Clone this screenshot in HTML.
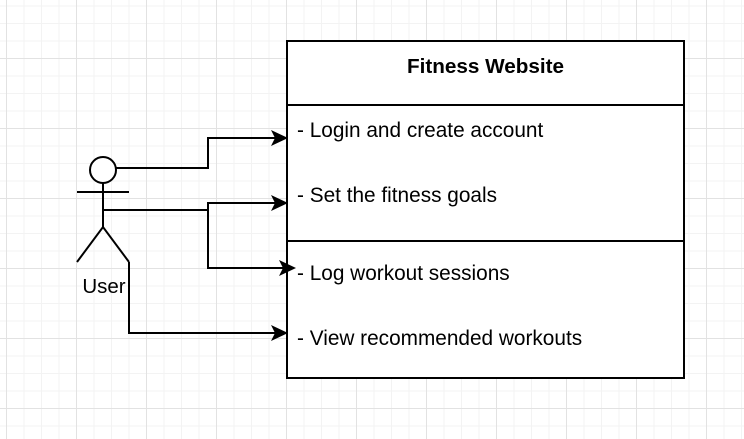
<!DOCTYPE html>
<html><head><style>
html,body{margin:0;padding:0;}
body{width:744px;height:439px;overflow:hidden;background-color:#fff;
background-image:
linear-gradient(to right,#e2e2e2 1px,transparent 1px),
linear-gradient(to bottom,#e2e2e2 1px,transparent 1px),
linear-gradient(to right,#f3f3f3 1px,transparent 1px),
linear-gradient(to bottom,#f3f3f3 1px,transparent 1px);
background-size:70px 70px,70px 70px,17.5px 17.5px,17.5px 17.5px;
background-position:6px 0,0 58px,6px 0,0 5.5px;}
svg{position:absolute;left:0;top:0;}
</style></head><body>
<svg width="744" height="439" xmlns="http://www.w3.org/2000/svg" font-family="Liberation Sans, sans-serif">
<rect x="287" y="41" width="397" height="337" fill="#fff" stroke="#000" stroke-width="2"/>
<line x1="287" y1="105" x2="684" y2="105" stroke="#000" stroke-width="2"/>
<line x1="287" y1="241" x2="684" y2="241" stroke="#000" stroke-width="2"/>
<text x="485.5" y="73" text-anchor="middle" font-weight="bold" font-size="20.7">Fitness Website</text>
<g font-size="20.8" fill="#000">
<text x="297" y="137">- Login and create account</text>
<text x="297" y="202">- Set the fitness goals</text>
<text x="297" y="280">- Log workout sessions</text>
<text x="297" y="345">- View recommended workouts</text>
</g>
<g stroke="#000" stroke-width="2" fill="none">
<circle cx="103" cy="170" r="13" fill="#fff"/>
<line x1="77" y1="192" x2="129" y2="192"/>
<line x1="103" y1="183" x2="103" y2="227"/>
<polyline points="77,262 103,227 129,262"/>
<polyline points="116,168 208,168 208,138 275,138"/>
<polyline points="103,210 208,210 208,203 275,203"/>
<polyline points="208,210 208,268 283,268"/>
<polyline points="129,262 129,333 275,333"/>
</g>
<g fill="#000">
<polygon points="288,138 271,130 275,138 271,146"/>
<polygon points="288,203 271,195 275,203 271,211"/>
<polygon points="296,268 279,260 283,268 279,276"/>
<polygon points="288,333 271,325 275,333 271,341"/>
</g>
<text x="104" y="293" text-anchor="middle" font-size="20.5">User</text>
</svg>
</body></html>
